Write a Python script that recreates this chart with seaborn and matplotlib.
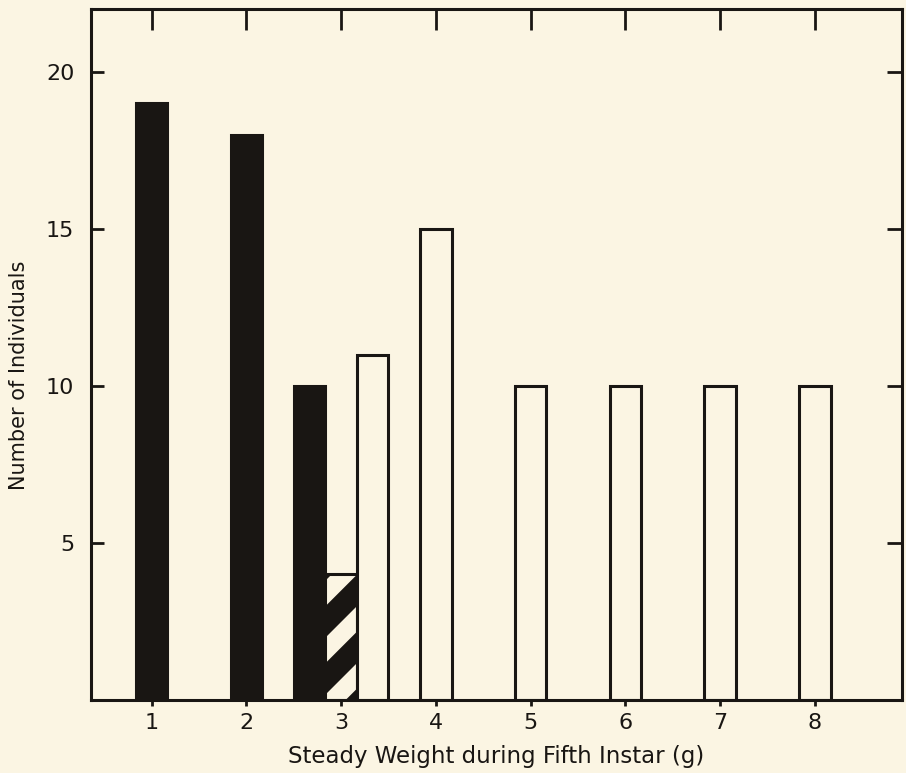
import matplotlib
matplotlib.use("Agg")
import matplotlib.pyplot as plt
import matplotlib.transforms as mtransforms
import numpy as np
import pandas as pd
import seaborn as sns

# steady weight class (g), number of individuals, kind of bar
weight = [1, 2, 3, 3, 3, 4, 5, 6, 7, 8]
count = [19, 18, 10, 4, 11, 15, 10, 10, 10, 10]
kind = ["solid", "solid", "solid", "hatched", "open", "open", "open", "open", "open", "open"]
xticks = [1, 2, 3, 4, 5, 6, 7, 8]
yticks = [5, 10, 15, 20]

df = pd.DataFrame({"weight": weight, "count": count, "kind": kind})
# bars that share a weight class stand side by side, a third of a unit apart
slot = df.groupby("weight").cumcount()
size = df.groupby("weight")["weight"].transform("size")
df["pos"] = df["weight"] + (slot - (size - 1) / 2) / 3

paper = "#fbf5e3"
ink = "#191613"

sns.set_style("ticks")
plt.rcParams["font.family"] = ["DejaVu Sans"]
plt.rcParams["text.color"] = ink
plt.rcParams["axes.labelcolor"] = ink
plt.rcParams["xtick.color"] = ink
plt.rcParams["ytick.color"] = ink

fig, ax = plt.subplots(figsize=(9.06, 7.73), dpi=100)
fig.patch.set_facecolor(paper)
ax.set_facecolor(paper)
fig.subplots_adjust(left=0.1004, right=0.9956, top=0.988, bottom=0.0944)

sns.barplot(data=df, x="pos", y="count", hue="kind", native_scale=True, dodge=False,
            palette={"solid": ink, "hatched": paper, "open": paper},
            width=1.0, saturation=1, edgecolor=ink, linewidth=2.2,
            errorbar=None, legend=False, ax=ax)

ax.set_xlim(0.36, 8.92)
ax.set_ylim(0, 22)

# broad diagonal stripes on the hatched bar
hatch_x = df.loc[df["kind"] == "hatched", "pos"].iloc[0]
for bar in list(ax.patches):
    if not np.isclose(bar.get_x() + bar.get_width() / 2, hatch_x):
        continue
    (l, b), (r, t) = ax.transData.transform(
        [(bar.get_x(), 0), (bar.get_x() + bar.get_width(), bar.get_height())])
    period = 57
    for k in range(-2, 5):
        c = b + 21 + k * period
        line, = ax.plot([l - 40, r + 40], [c - 40, c + (r - l) + 40],
                        transform=mtransforms.IdentityTransform(), color=ink, lw=16,
                        solid_capstyle="butt")
        line.set_clip_path(bar)

ax.set_xlim(0.36, 8.92)
ax.set_ylim(0, 22)
ax.set_xticks(xticks)
ax.set_yticks(yticks)
ax.set_xlabel("Steady Weight during Fifth Instar (g)", fontsize=16.5, labelpad=9)
ax.set_ylabel("Number of Individuals", fontsize=15)
ax.yaxis.set_label_coords(-0.077, 0.47)
ax.tick_params(axis="x", direction="out", length=4, width=2, labelsize=16, pad=5)
ax.tick_params(axis="y", direction="in", length=9, width=2, labelsize=16, pad=12)
for s in ax.spines.values():
    s.set_linewidth(2.2)
    s.set_color(ink)

top = ax.secondary_xaxis("top")
top.set_xticks(xticks)
top.tick_params(direction="in", length=15, width=2, labeltop=False)
right = ax.secondary_yaxis("right")
right.set_yticks(yticks)
right.tick_params(direction="in", length=11, width=2, labelright=False)
for sec in (top, right):
    for s in sec.spines.values():
        s.set_visible(False)

fig.savefig("out.png", dpi=100, facecolor=paper)
